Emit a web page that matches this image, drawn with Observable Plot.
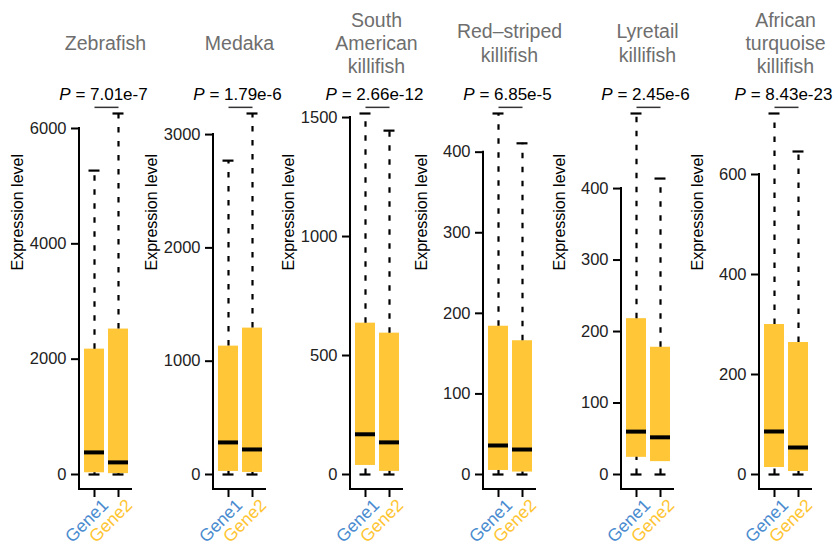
<!DOCTYPE html>
<html><head><meta charset="utf-8">
<script src="https://cdn.jsdelivr.net/npm/d3@7"></script>
<script src="https://cdn.jsdelivr.net/npm/@observablehq/plot@0.6"></script>
<style>
html,body{margin:0;padding:0;background:#fff;}
#chart{position:relative;width:839px;height:550px;overflow:hidden;}
#chart svg{position:absolute;top:0;}
</style></head><body><div id="chart"></div>
<script>
// ---- data ----
const species = ["Zebrafish", "Medaka", "South\nAmerican\nkillifish", "Red\u2013striped\nkillifish", "Lyretail\nkillifish", "African\nturquoise\nkillifish"];
const pValues = ["7.01e-7", "1.79e-6", "2.66e-12", "6.85e-5", "2.45e-6", "8.43e-23"];
const genes = ["Gene1", "Gene2"];
const gene1Lower  = [0, 0, 0, 0, 0, 0];
const gene1Q1     = [30, 27, 38, 5, 24, 14];
const gene1Median = [383, 283, 169, 36, 60, 86];
const gene1Q3     = [2174, 1133, 636, 184, 218, 300];
const gene1Upper  = [5270, 2770, 1517, 448, 505, 722];
const gene2Lower  = [0, 0, 0, 0, 0, 0];
const gene2Q1     = [15, 18, 13, 3, 18, 6];
const gene2Median = [210, 221, 135, 31, 52, 54];
const gene2Q3     = [2522, 1292, 594, 166, 178, 264];
const gene2Upper  = [6260, 3186, 1445, 411, 414, 646];
const yTicks = [[0, 2000, 4000, 6000], [0, 1000, 2000, 3000], [0, 500, 1000, 1500], [0, 100, 200, 300, 400], [0, 100, 200, 300, 400], [0, 200, 400, 600]];
const yLabel = "Expression level";

// ---- layout / style ----
const FONT = '"Liberation Sans", Arial, Helvetica, sans-serif';
const axisLeft = [79, 213, 350, 483, 621, 759];
const ML = 75, FW = 52, MR = 25, H = 550, MT = 51, MB = 61;
const zeroPx = 474, topPx = 113;
const BOX = "#FFC738";
const geneColors = ["#4A8CD0", "#FFC533"];
const dash = "5.5,8.5";

const chart = document.getElementById("chart");

species.forEach((sp, i) => {
  const rows = [
    {gene: genes[0], lo: gene1Lower[i], q1: gene1Q1[i], med: gene1Median[i], q3: gene1Q3[i], hi: gene1Upper[i]},
    {gene: genes[1], lo: gene2Lower[i], q1: gene2Q1[i], med: gene2Median[i], q3: gene2Q3[i], hi: gene2Upper[i]}
  ];
  const yMax = d3.max(rows, d => d.hi);
  const ticks = yTicks[i];
  const topTick = d3.max(ticks);
  const bracketLevel = yMax * 1.017;

  const axisLines = (index, scales, values, dimensions) => {
    const {marginLeft, marginRight, marginBottom, width, height} = dimensions;
    return d3.create("svg:path")
      .attr("d", `M${marginLeft},${scales.y(topTick)}V${height - marginBottom}H${width - marginRight}`)
      .attr("fill", "none").attr("stroke", "black").attr("stroke-width", 2)
      .attr("stroke-linecap", "square")
      .node();
  };

  const plot = Plot.plot({
    width: ML + FW + MR, height: H,
    marginLeft: ML, marginRight: MR, marginTop: MT, marginBottom: MB,
    style: {background: "transparent", overflow: "visible", fontFamily: FONT},
    x: {domain: genes, paddingInner: 1/6, paddingOuter: 1/6, align: 0.6},
    y: {domain: [0, yMax], range: [zeroPx, topPx]},
    marks: [
      Plot.barY(rows, {x: "gene", y1: "q1", y2: "q3", fill: BOX}),
      Plot.ruleX(rows, {x: "gene", y1: "q3", y2: "hi", stroke: "black", strokeWidth: 2.2, strokeDasharray: dash}),
      Plot.ruleX(rows, {x: "gene", y1: "lo", y2: "q1", stroke: "black", strokeWidth: 2.2, strokeDasharray: dash}),
      Plot.tickY(rows, {x: "gene", y: "hi", insetLeft: 4.5, insetRight: 4.5, stroke: "black", strokeWidth: 2.2}),
      Plot.tickY(rows, {x: "gene", y: "lo", insetLeft: 4.5, insetRight: 4.5, stroke: "black", strokeWidth: 2.2}),
      Plot.tickY(rows, {x: "gene", y: "med", stroke: "black", strokeWidth: 4}),
      Plot.axisY({ticks, tickFormat: d => String(d), tickSize: 8, tickPadding: 5, fontSize: 16.5, stroke: "black", fill: "#222", strokeWidth: 2, label: null}),
      Plot.axisX({tickSize: 8, strokeWidth: 2, stroke: "black", fill: "none", label: null}),
      axisLines,
      ...genes.map((g, j) => Plot.text([g], {x: d => d, text: d => d, frameAnchor: "bottom", rotate: -45, textAnchor: "end", lineAnchor: "top", dx: 6, dy: 8, fontSize: 17.5, fill: geneColors[j]})),
      Plot.text([yLabel], {text: d => d, frameAnchor: "left", rotate: -90, dx: -62, fontSize: 16, fill: "black"}),
      Plot.text([sp], {text: d => d, frameAnchor: "top", lineAnchor: "middle", dy: -9, fontSize: 19.5, lineHeight: 1.2, fill: "#6e6e6e"}),
      Plot.text([pValues[i]], {text: d => `P = ${d}`, frameAnchor: "top", lineAnchor: "bottom", dy: 48, dx: -2, fontSize: 17, fill: "black"}),
      Plot.link([bracketLevel], {x1: () => genes[0], x2: () => genes[1], y1: d => d, y2: d => d, stroke: "#333", strokeWidth: 1.5})
    ]
  });
  plot.style.left = (axisLeft[i] - ML) + "px";
  // italic P
  plot.querySelectorAll("text").forEach(t => {
    const s = t.textContent;
    if (s.startsWith("P = ")) {
      t.textContent = "";
      const ns = "http://www.w3.org/2000/svg";
      const a = document.createElementNS(ns, "tspan");
      a.setAttribute("font-style", "italic");
      a.textContent = "P";
      const b = document.createElementNS(ns, "tspan");
      b.textContent = s.slice(1);
      t.appendChild(a); t.appendChild(b);
    }
  });
  chart.appendChild(plot);
});
</script></body></html>
